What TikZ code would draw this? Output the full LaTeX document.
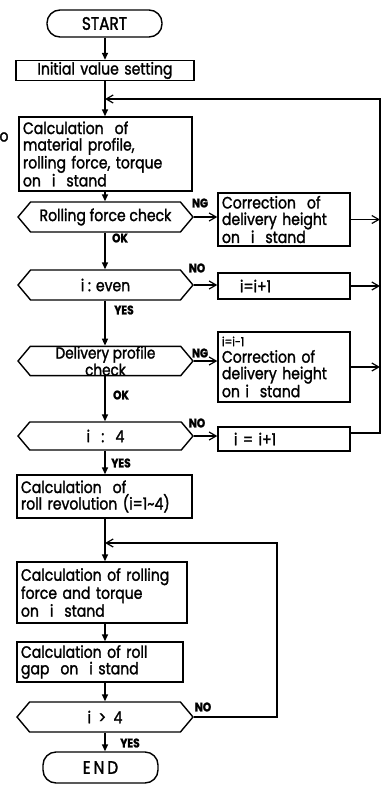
\documentclass[tikz,border=0pt]{standalone}
\usepackage{fontspec}
\setmainfont{Poppins}[FakeStretch=0.85, FakeBold=1.5]
\usetikzlibrary{arrows.meta,shapes.symbols}
\tikzset{
  ln/.style={line width=1.4pt},
  txt/.style={font=\fontsize{16.5}{16.5}\selectfont},
  box/.style={ln, txt, draw, rectangle, inner ysep=0pt, inner xsep=4pt, align=left},
  term/.style={ln, font=\fontsize{18}{18}\selectfont, draw, rectangle, rounded corners=13pt, inner sep=0pt},
  hex/.style={ln, txt, draw, signal, signal to=west and east, signal pointer angle=100, inner sep=0pt, align=center},
  lab/.style={font=\fontsize{12.5}{12.5}\bfseries\selectfont, inner sep=0pt},
  va/.style={ln, -{Triangle[length=7pt,width=6pt]}},
  ha/.style={ln, -{Straight Barb[length=7pt,width=8pt,line width=1.2pt]}},
  pl/.style={ln}
}
\begin{document}
\begin{tikzpicture}[x=1pt,y=-1pt]
\useasboundingbox (0,0) rectangle (384,785);
\coordinate (mx) at (105,0);
% terminals and boxes
\node[term, minimum width=115pt, minimum height=27pt] (start) at (104.5,23.5) {START};
\node[box, text width=170pt, minimum height=20pt, align=center] (init) at (105,70.5) {Initial value setting};
\node[box, text width=165pt, minimum height=74pt] (calc1) at (105.5,154)
  {Calculation\ \ of\\material profile,\\rolling force, torque\\on\ \ i\ \ stand};
\node[hex, minimum width=175pt, minimum height=30pt] (rfc) at (105.5,217) {Rolling force check};
\node[box, text width=124pt, minimum height=53pt] (corr1) at (284,219.5)
  {Correction\ \ of\\delivery height\\on\ \ i\ \ stand};
\node[hex, minimum width=175pt, minimum height=30pt] (even) at (105.5,285) {i : even};
\node[box, text width=124pt, minimum height=26pt] (inc1) at (284,286) {\hspace*{18pt}i=i+1};
\node[hex, minimum width=175pt, minimum height=28pt, font=\fontsize{16}{11}\selectfont] (dpc) at (105.5,361) {Delivery profile\\check};
\node[box, text width=124pt, minimum height=70pt] (corr2) at (284,367)
  {{\fontsize{12.5}{12.5}\selectfont i=i-1}\\Correction of\\delivery height\\on i\ \ stand};
\node[hex, minimum width=175pt, minimum height=28pt] (i4) at (105.5,436) {i\ \ \ :\ \ \ 4};
\node[box, text width=124pt, minimum height=24pt] (inc2) at (284,439) {\hspace*{12pt}i = i+1};
\node[box, text width=167pt, minimum height=43pt] (rev) at (104.5,496.5)
  {Calculation\ \ of\\roll revolution (i=1\textasciitilde4)};
\node[box, text width=162pt, minimum height=61pt] (calc2) at (102,592.5)
  {Calculation of rolling\\force and torque\\on\ \ i\ \ stand};
\node[box, text width=158pt, minimum height=40pt] (gap) at (100,662)
  {Calculation of roll\\gap\ \ on\ \ i stand};
\node[hex, minimum width=176pt, minimum height=30pt] (gt4) at (105,717) {i\ \ >\ \ 4};
\node[term, minimum width=115pt, minimum height=31pt] (end) at (100.5,767.5) {E\,N\,D};
\node[txt, inner sep=0pt] (stray) at (4,137) {o};
% labels
\node[lab] (ng1) at (200,203) {NG};
\node[lab] (ok1) at (120,238) {OK};
\node[lab] (no1) at (197,268) {NO};
\node[lab] (yes1) at (124,310) {YES};
\node[lab] (ng2) at (200,353) {NG};
\node[lab] (ok2) at (121,395) {OK};
\node[lab] (no2) at (197,423) {NO};
\node[lab] (yes2) at (121,463) {YES};
\node[lab] (no3) at (203,707) {NO};
\node[lab] (yes3) at (130,743) {YES};
% junctions
\coordinate (j1) at (105,99);
\coordinate (bt) at (380,99);
\coordinate (bb) at (380,433);
\coordinate (j2) at (105,543);
\coordinate (rt) at (277,543);
\coordinate (rb) at (277,717);
% main flow
\draw[va] (start.south -| mx) -- (init.north -| mx);
\draw[pl] (init.south -| mx) -- (j1);
\draw[va] (j1) -- (calc1.north -| mx);
\draw[va] (calc1.south -| mx) -- (rfc.north -| mx);
\draw[va] (rfc.south -| mx) -- (even.north -| mx);
\draw[va] (even.south -| mx) -- (dpc.north -| mx);
\draw[va] (dpc.south -| mx) -- (i4.north -| mx);
\draw[va] (i4.south -| mx) -- (rev.north -| mx);
\draw[pl] (rev.south -| mx) -- (j2);
\draw[va] (j2) -- (calc2.north -| mx);
\draw[va] (calc2.south -| mx) -- (gap.north -| mx);
\draw[va] (gap.south -| mx) -- (gt4.north -| mx);
\draw[va] (gt4.south -| mx) -- (end.north -| mx);
% branches
\draw[ha] (rfc.east) -- (rfc.east -| corr1.west);
\draw[ha] (even.east) -- (even.east -| inc1.west);
\draw[ha] (dpc.east) -- (dpc.east -| corr2.west);
\draw[ha] (i4.east) -- (i4.east -| inc2.west);
\draw[ha] (corr1.east) -- (corr1.east -| bt);
\draw[ha] (inc1.east) -- (inc1.east -| bt);
\draw[ha] (corr2.east) -- (corr2.east -| bt);
\draw[ha] (inc2.east |- bb) -- (bb) -- (bt) -- (j1);
\draw[ha] (gt4.east) -- (rb) -- (rt) -- (j2);
\end{tikzpicture}
\end{document}
